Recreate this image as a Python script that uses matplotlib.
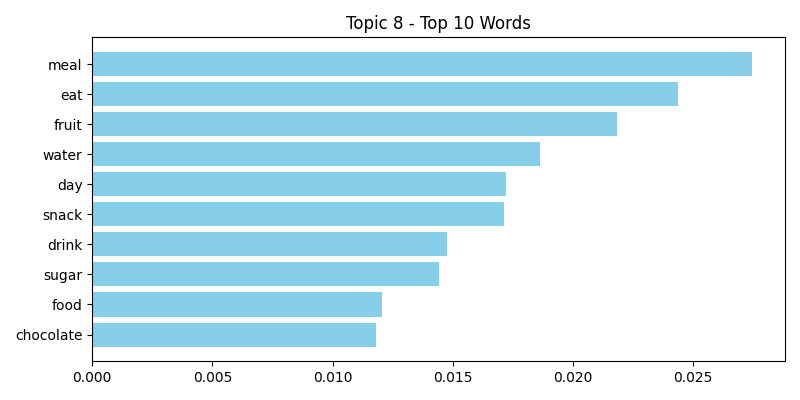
import matplotlib
matplotlib.use("Agg")
import matplotlib.pyplot as plt

words = ["meal", "eat", "fruit", "water", "day", "snack", "drink", "sugar", "food", "chocolate"]
weights = [0.02745, 0.02438, 0.02184, 0.01864, 0.01723, 0.01714, 0.01478, 0.01444, 0.01207, 0.01182]

fig, ax = plt.subplots(figsize=(8, 4), dpi=100)
ax.barh(words, weights, color="skyblue")
ax.invert_yaxis()
ax.set_title("Topic 8 - Top 10 Words")
fig.tight_layout()
fig.savefig("out.png")
